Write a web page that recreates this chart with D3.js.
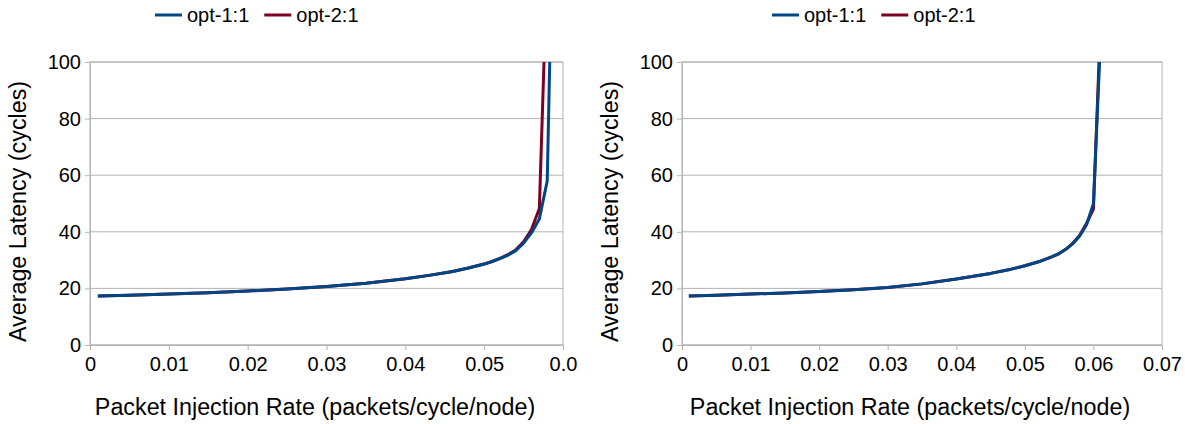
<!DOCTYPE html>
<html>
<head>
<meta charset="utf-8">
<script src="https://cdn.jsdelivr.net/npm/d3@7"></script>
<style>
  html, body { margin: 0; padding: 0; background: #fff; }
  svg { display: block; font-family: "Liberation Sans", Arial, sans-serif; }
</style>
</head>
<body>
<svg id="chart" width="1185" height="424"></svg>
<script>
// Injection rates (packets/cycle/node) sampled for each configuration
const ratesLeft  = [0.001, 0.005, 0.01, 0.015, 0.02, 0.025, 0.03, 0.035, 0.04, 0.043, 0.046, 0.048, 0.05, 0.051, 0.052, 0.053, 0.054, 0.055, 0.056, 0.057, 0.058, 0.059];
const opt1Left   = [17.3, 17.6, 18.0, 18.5, 19.1, 19.8, 20.7, 21.8, 23.4, 24.6, 26.0, 27.2, 28.6, 29.5, 30.5, 31.7, 33.3, 36.0, 39.6, 44.5, 58.0, 190];
const opt2Left   = [17.3, 17.6, 18.0, 18.5, 19.1, 19.8, 20.7, 21.8, 23.4, 24.6, 26.0, 27.2, 28.6, 29.5, 30.6, 31.9, 33.6, 36.5, 40.8, 48.2, 136];

const ratesRight = [0.001, 0.005, 0.01, 0.015, 0.02, 0.025, 0.03, 0.035, 0.04, 0.045, 0.048, 0.05, 0.052, 0.054, 0.055, 0.056, 0.057, 0.058, 0.059, 0.06, 0.061];
const opt1Right  = [17.3, 17.6, 18.0, 18.4, 18.9, 19.5, 20.3, 21.6, 23.3, 25.3, 26.8, 28.0, 29.4, 31.2, 32.3, 33.8, 35.8, 38.5, 42.5, 50.0, 106];
const opt2Right  = [17.3, 17.6, 18.0, 18.4, 18.9, 19.5, 20.3, 21.6, 23.3, 25.3, 26.8, 28.0, 29.4, 31.2, 32.3, 33.9, 36.0, 38.8, 43.0, 48.0, 112];

// Axis ticks and labels
const yTicks = [0, 20, 40, 60, 80, 100];
const xTicksLeft  = [0, 0.01, 0.02, 0.03, 0.04, 0.05, 0.06];
const xLabelsLeft = ["0", "0.01", "0.02", "0.03", "0.04", "0.05", "0.0"];
const xTicksRight  = [0, 0.01, 0.02, 0.03, 0.04, 0.05, 0.06, 0.07];
const xLabelsRight = ["0", "0.01", "0.02", "0.03", "0.04", "0.05", "0.06", "0.07"];

const seriesNames  = ["opt-1:1", "opt-2:1"];
const seriesColors = ["#004586", "#7e0021"];

const svg = d3.select("#chart");
const GRID = "#b3b3b3";
const TICK_FONT = 20;
const TITLE_FONT = 23.3;

function drawPanel(cfg) {
  const g = svg.append("g");
  const x = d3.scaleLinear().domain(cfg.xDomain).range([cfg.left, cfg.right]);
  const y = d3.scaleLinear().domain([0, 100]).range([cfg.bottom, cfg.top]);

  const clipId = "clip" + cfg.id;
  svg.append("clipPath").attr("id", clipId)
    .append("rect")
    .attr("x", cfg.left).attr("y", cfg.top)
    .attr("width", cfg.right - cfg.left).attr("height", cfg.bottom - cfg.top);

  // horizontal grid
  g.selectAll(".grid").data(yTicks).join("line")
    .attr("x1", cfg.left).attr("x2", cfg.right)
    .attr("y1", d => y(d)).attr("y2", d => y(d))
    .attr("stroke", GRID).attr("stroke-width", 1);

  // plot frame
  g.append("rect")
    .attr("x", cfg.left).attr("y", cfg.top)
    .attr("width", cfg.right - cfg.left).attr("height", cfg.bottom - cfg.top)
    .attr("fill", "none").attr("stroke", GRID).attr("stroke-width", 1);

  // y axis
  const yAxis = d3.axisLeft(y).tickValues(yTicks).tickSize(5).tickPadding(4);
  const ya = g.append("g").attr("transform", `translate(${cfg.left},0)`).call(yAxis);
  ya.select(".domain").attr("stroke", GRID);
  ya.selectAll(".tick line").attr("stroke", GRID);
  ya.selectAll(".tick text").attr("font-size", TICK_FONT).attr("fill", "#000")
    .attr("font-family", "Liberation Sans, Arial, sans-serif");

  // x axis
  const xAxis = d3.axisBottom(x).tickValues(cfg.xTicks).tickSize(5).tickPadding(7)
    .tickFormat((d, i) => cfg.xLabels[i]);
  const xa = g.append("g").attr("transform", `translate(0,${cfg.bottom})`).call(xAxis);
  xa.select(".domain").attr("stroke", GRID);
  xa.selectAll(".tick line").attr("stroke", GRID);
  xa.selectAll(".tick text").attr("font-size", TICK_FONT).attr("fill", "#000")
    .attr("font-family", "Liberation Sans, Arial, sans-serif");

  // axis titles
  g.append("text")
    .attr("x", cfg.titleX).attr("y", 415)
    .attr("text-anchor", "middle").attr("font-size", TITLE_FONT)
    .text("Packet Injection Rate (packets/cycle/node)");
  g.append("text")
    .attr("transform", `translate(${cfg.left - 64},${(cfg.top + cfg.bottom) / 2 + 8}) rotate(-90)`)
    .attr("text-anchor", "middle").attr("font-size", TITLE_FONT)
    .text("Average Latency (cycles)");

  // series lines
  const line = d3.line().x(d => x(d[0])).y(d => y(d[1]));
  const plot = g.append("g").attr("clip-path", `url(#${clipId})`);
  // draw opt-2 first so opt-1 sits on top
  [1, 0].forEach(k => {
    const vals = cfg.series[k];
    const pts = vals.map((v, i) => [cfg.rates[i], v]);
    plot.append("path").datum(pts)
      .attr("d", line)
      .attr("fill", "none")
      .attr("stroke", seriesColors[k])
      .attr("stroke-width", 3)
      .attr("stroke-linejoin", "round");
  });

  // legend
  const lg = g.append("g").attr("transform", `translate(${cfg.legendX},15)`);
  let off = 0;
  seriesNames.forEach((name, k) => {
    lg.append("line").attr("x1", off).attr("x2", off + 27).attr("y1", 0).attr("y2", 0)
      .attr("stroke", seriesColors[k]).attr("stroke-width", 3);
    const t = lg.append("text").attr("x", off + 32).attr("y", 7)
      .attr("font-size", TICK_FONT).text(name);
    off += 32 + t.node().getComputedTextLength() + 15;
  });
}

drawPanel({
  id: "L", left: 90, right: 563, top: 62, bottom: 345, titleX: 315,
  xDomain: [0, 0.06], xTicks: xTicksLeft, xLabels: xLabelsLeft,
  rates: ratesLeft, series: [opt1Left, opt2Left], legendX: 155
});
drawPanel({
  id: "R", left: 682, right: 1162, top: 62, bottom: 345, titleX: 910,
  xDomain: [0, 0.07], xTicks: xTicksRight, xLabels: xLabelsRight,
  rates: ratesRight, series: [opt1Right, opt2Right], legendX: 772
});
</script>
</body>
</html>
